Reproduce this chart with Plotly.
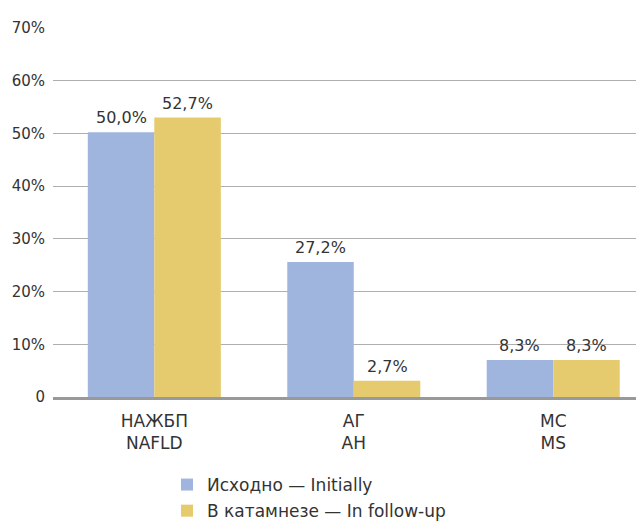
import plotly.graph_objects as go

categories = ["НАЖБП<br>NAFLD", "АГ<br>AH", "МС<br>MS"]
series_names = ["Исходно — Initially", "В катамнезе — In follow-up"]
initially = [50.2, 25.6, 7.0]
follow_up = [53.0, 3.1, 7.0]
initially_labels = ["50,0%", "27,2%", "8,3%"]
follow_up_labels = ["52,7%", "2,7%", "8,3%"]
y_ticks = [0, 10, 20, 30, 40, 50, 60, 70]
y_tick_labels = ["0", "10%", "20%", "30%", "40%", "50%", "60%", "70%"]

FONT = "DejaVu Sans, Verdana, sans-serif"
TXT = "#333333"
colors = ["#A0B5DE", "#E5CB6E"]

W, H = 636, 522
ML, MR, MT, MB = 53, 0, 28, 124.5
X_RANGE = [-0.508, 2.415]
BARGAP = 0.333
px_per_unit = (W - ML - MR) / (X_RANGE[1] - X_RANGE[0])
half_bar_px = (1 - BARGAP) / 2 / 2 * px_per_unit

fig = go.Figure()
series = [(series_names[0], initially, initially_labels),
          (series_names[1], follow_up, follow_up_labels)]
for i, (name, vals, labs) in enumerate(series):
    fig.add_trace(go.Bar(
        x=categories, y=vals, name=name,
        marker=dict(color=colors[i], line=dict(width=0)),
        legendgroup=f"g{i}",
    ))
    shift = -half_bar_px if i == 0 else half_bar_px
    for c, v, lab in zip(categories, vals, labs):
        fig.add_annotation(
            x=c, y=v, text=lab, showarrow=False,
            xanchor="center", yanchor="bottom", xshift=shift, yshift=3,
            font=dict(family=FONT, size=16, color=TXT),
        )

fig.update_layout(
    width=W, height=H,
    margin=dict(l=ML, r=MR, t=MT, b=MB, autoexpand=False),
    paper_bgcolor="white", plot_bgcolor="white",
    barmode="group", bargap=BARGAP, bargroupgap=0,
    font=dict(family=FONT, size=17, color=TXT),
    showlegend=True,
    legend=dict(
        orientation="v", xref="container", yref="container",
        x=167 / W, y=1 - 467 / H, xanchor="left", yanchor="top",
        traceorder="grouped", tracegroupgap=1,
        font=dict(family=FONT, size=17, color=TXT),
        bgcolor="rgba(0,0,0,0)",
    ),
)
fig.update_xaxes(
    range=X_RANGE, showgrid=False, zeroline=False,
    showline=True, linecolor="#999999", linewidth=2.5,
    ticks="", ticklabelstandoff=7,
    tickfont=dict(family=FONT, size=17, color=TXT),
    automargin=False, fixedrange=True,
)
fig.update_yaxes(
    range=[0, 70], tickvals=y_ticks, ticktext=y_tick_labels,
    showgrid=True, gridcolor="#AFAFAF", gridwidth=1.2,
    zeroline=False, showline=False, ticks="",
    ticklabelstandoff=7,
    tickfont=dict(family=FONT, size=15, color=TXT),
    automargin=False, fixedrange=True,
)

fig.write_html("out.html")
